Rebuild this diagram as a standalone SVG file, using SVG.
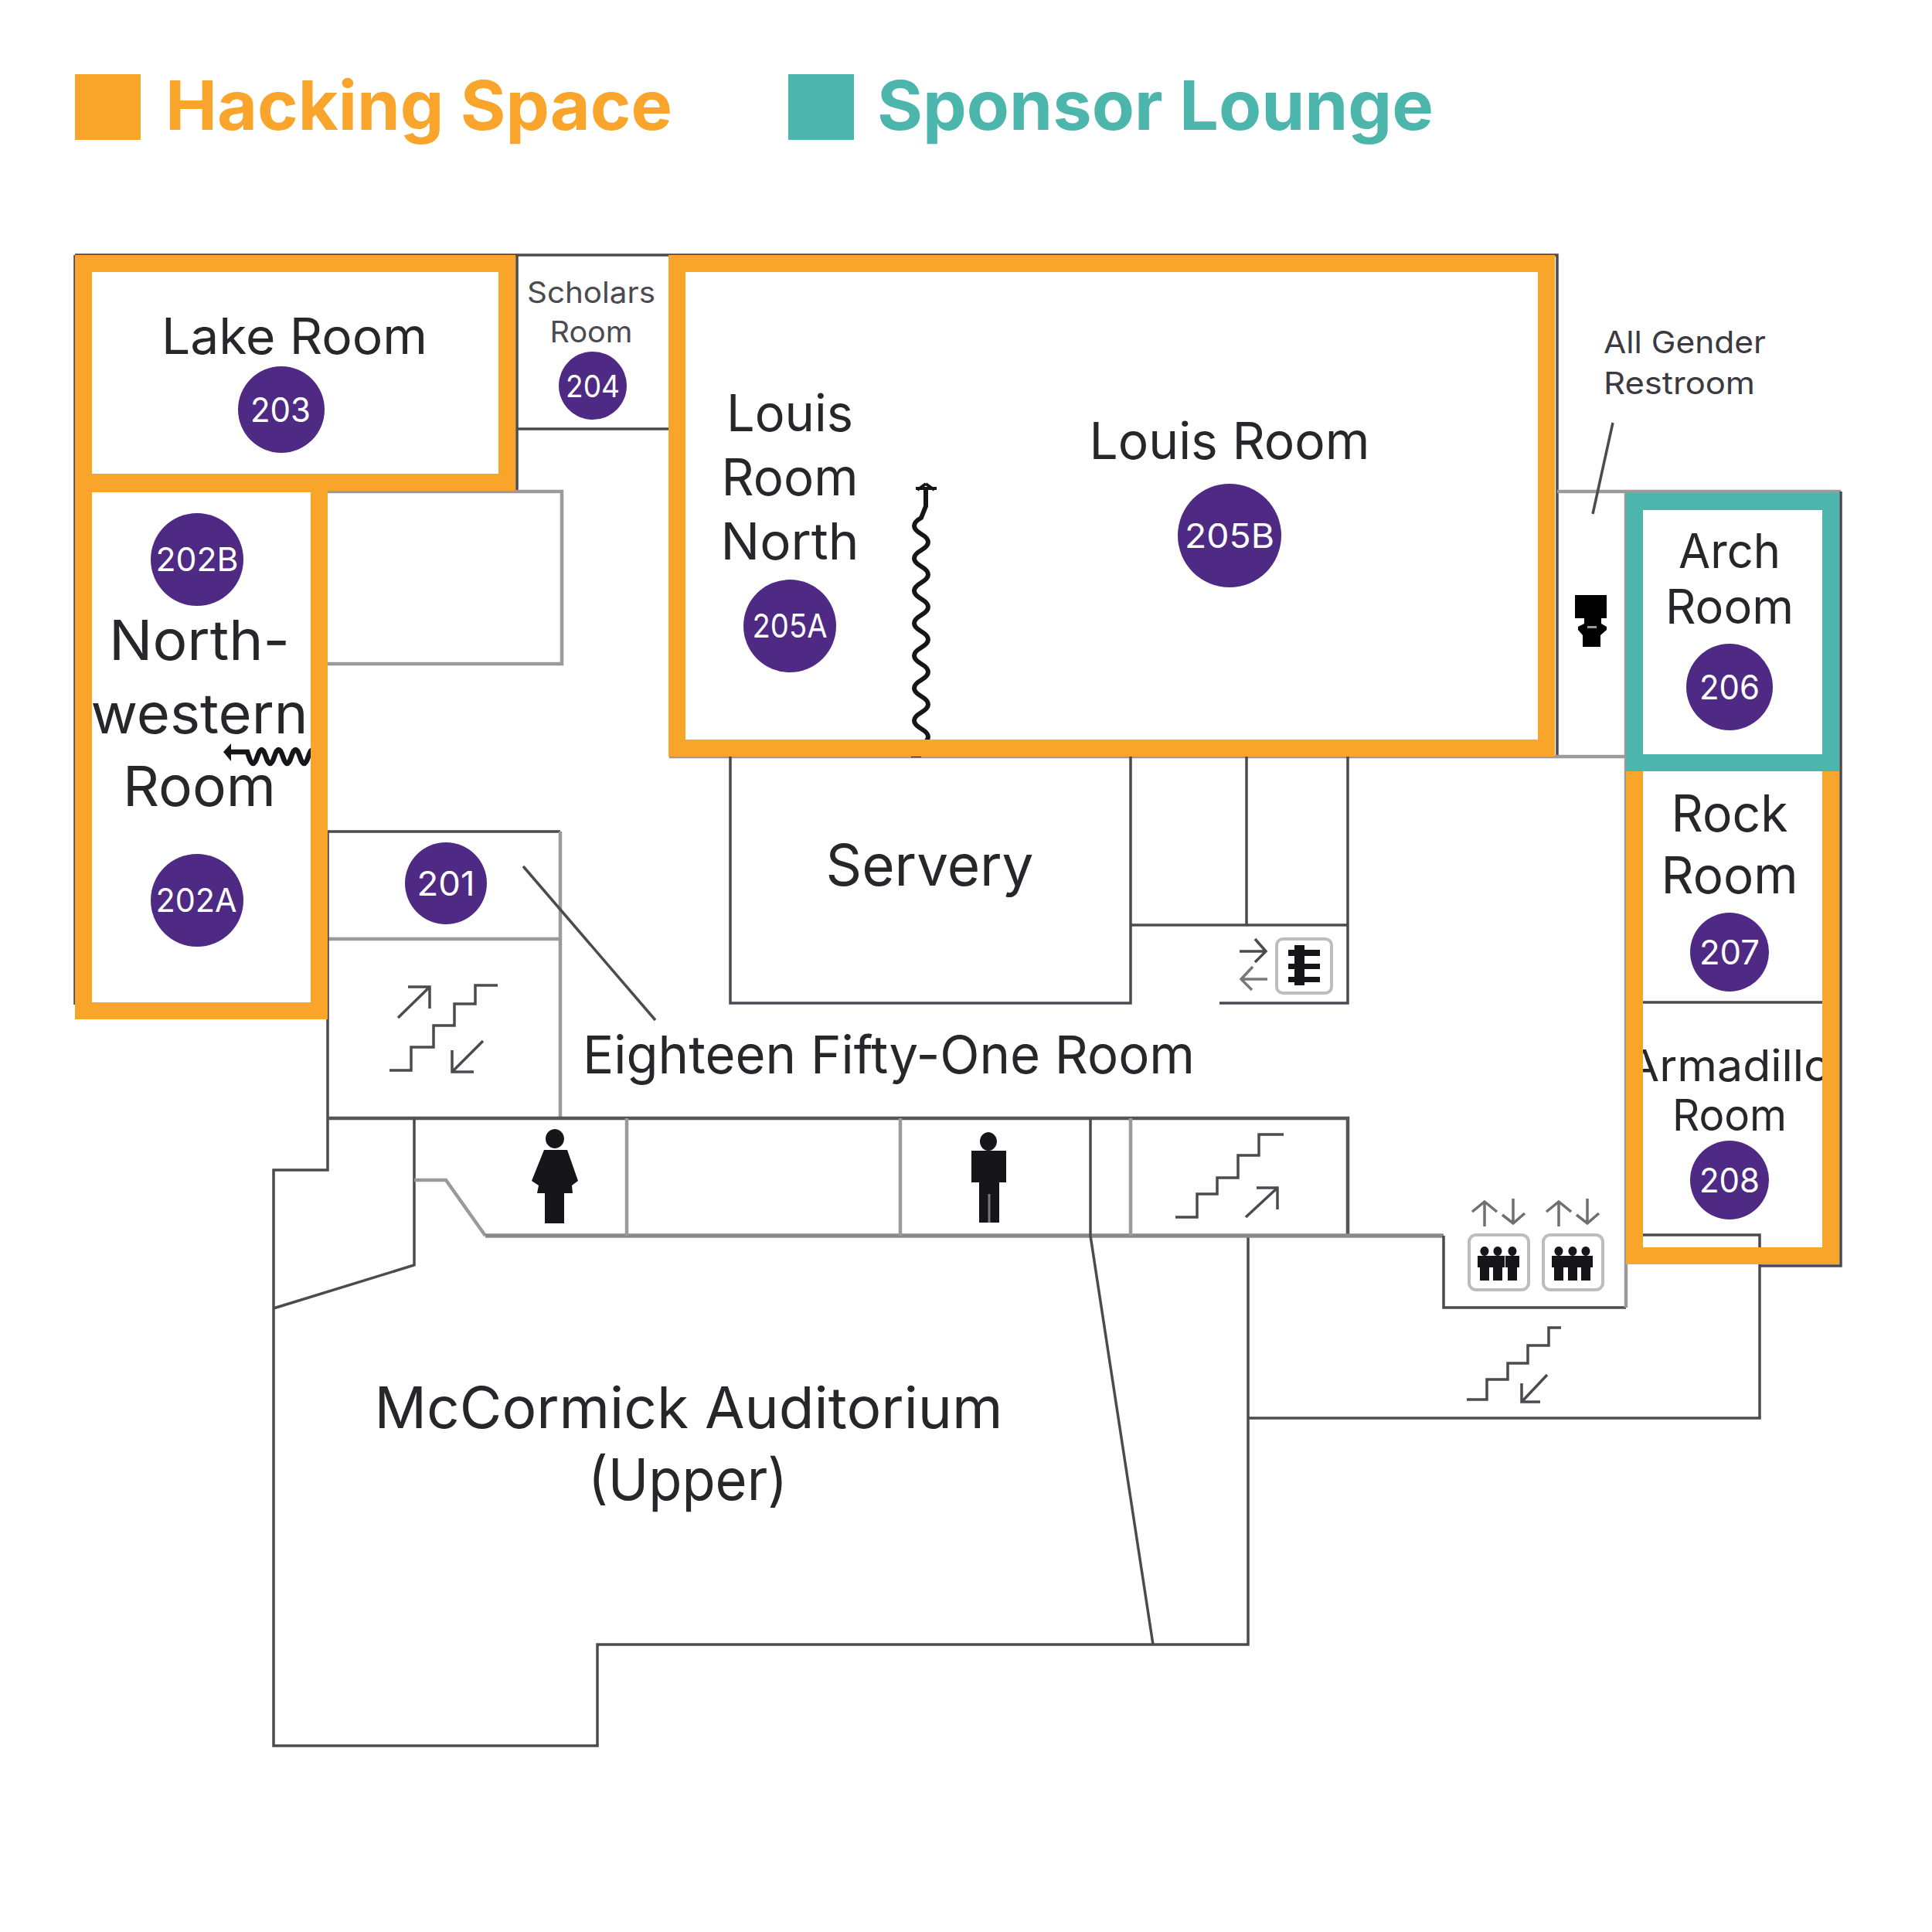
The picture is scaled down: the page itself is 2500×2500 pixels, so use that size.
<svg xmlns="http://www.w3.org/2000/svg" xmlns:xlink="http://www.w3.org/1999/xlink" width="2500" height="2500" viewBox="0 0 2500 2500">
<style>
text{font-family:"Inter","Liberation Sans",sans-serif;fill:#26262b;text-anchor:middle}
.w{fill:none;stroke:#4a4a50;stroke-width:3.5}
.g{fill:none;stroke:#9a9a9a;stroke-width:4.5}
.th{fill:none;stroke:#55555a;stroke-width:4.5}
.ic{fill:none;stroke:#4a4a50;stroke-width:3.5}
.b{fill:#4E2A84}
.n{fill:#fff;font-size:44px}
.o{fill:none;stroke:#F9A52B;stroke-width:22}
.t{fill:none;stroke:#4DB6AC;stroke-width:22}
.k{fill:#16161a}
.sq{fill:none;stroke:#16161a;stroke-width:6}
.lg{font-weight:700;font-size:88px;text-anchor:start}
.box{fill:#fff;stroke:#bdbdbd;stroke-width:4}
</style>
<defs>
<path id="person" class="k" d="M0 0a5.500 6 0 1 1-.1 0zM-9 12H9V27H6V44H-6V27H-9z"/>
</defs>
<rect width="2500" height="2500" fill="#fff"/>
<g id="legend">
<rect x="97" y="96" width="85" height="85" fill="#F9A52B"/>
<text class="lg" x="214" y="168" textLength="656" lengthAdjust="spacingAndGlyphs" style="fill:#F9A52B">Hacking Space</text>
<rect x="1020" y="96" width="85" height="85" fill="#4DB6AC"/>
<text class="lg" x="1135" y="168" textLength="720" lengthAdjust="spacingAndGlyphs" style="fill:#4DB6AC">Sponsor Lounge</text>
</g>
<g id="connectors">
<path class="w" d="M97 330H2015V980M97 330V1300M669 330V636"/>
<path class="w" d="M669 555H866"/>
<path class="g" d="M424 636H727V859H424"/>
<path class="w" d="M424 1076H725"/>
<path class="g" d="M725 1076V1447M424 1215H725"/>
<path class="w" d="M424 1076V1514H354V2259H773V2128H1615V1599"/>
<path class="th" d="M424 1447H1744V1599"/>
<path class="w" d="M354 1693L536 1637V1447"/>
<path class="g" d="M536 1527H577L628 1599"/>
<path class="th" d="M628 1599H1868" style="stroke:#8a8a8a;stroke-width:5.500"/>
<path class="g" d="M811 1447V1599M1165 1447V1599M1463 1447V1599"/>
<path class="w" d="M1411 1447V1599L1492 2128"/>
<path class="w" d="M1868 1599V1692H2104"/>
<path class="g" d="M2104 636V1692M866 979H2104M2015 636H2382"/>
<path class="w" d="M945 979V1298H1463V979M1613 979V1197M1463 1197H1744M1744 979V1298H1578"/>
<path class="w" d="M2125 1297H2358M2125 1598H2277V1835H1615M2382 636V1638H2277"/>
<path class="w" d="M677 1121L848 1320M2087 547L2061 665"/>
</g>
<g id="stairs-west">
<path class="ic" d="M504 1385H532V1355H561V1327H588V1299H615V1275H644M515 1317L556 1277M528 1277H556V1305M625 1347L585 1387M585 1359V1387H613"/>
</g>
<g id="stairs-east">
<path class="ic" d="M1521 1575H1549V1545H1575V1524H1602V1495H1629V1468H1661M1612 1575L1653 1537M1626 1537H1653V1565"/>
</g>
<g id="stairs-south">
<path class="ic" d="M1898 1811H1924V1785H1951V1764H1977V1741H2004V1718H2020M2002 1779L1969 1814M1969 1790V1814H1993"/>
</g>
<g id="freight-elevator">
<path class="ic" d="M1604 1231H1638M1624 1215L1638 1231L1624 1245"/>
<path class="ic" d="M1640 1267H1606M1621 1251L1606 1267L1620 1281" style="stroke:#77777c"/>
<rect class="box" x="1652" y="1215" width="71" height="70" rx="8"/>
<path class="k" d="M1675 1223H1688V1229H1708V1237H1688V1247H1708V1254H1688V1264H1708V1271H1688V1275H1675V1271H1667V1264H1675V1254H1667V1247H1675V1237H1667V1229H1675z"/>
</g>
<g id="woman-restroom">
<path class="k" d="M718 1461a12 12.500 0 1 1-.1 0zM704 1488H734L748 1528L740 1534L741 1544H730V1583H705V1544H695L697 1534L688 1528z"/>
</g>
<g id="men-restroom">
<path class="k" d="M1279 1465a11 12 0 1 1-.1 0zM1257 1489H1302V1530H1293V1582H1267V1530H1257z"/>
<rect x="1278.500" y="1545" width="3" height="37" fill="#777"/>
</g>
<g id="all-gender-restroom">
<text x="2075" y="457" font-size="40" textLength="210" lengthAdjust="spacingAndGlyphs" style="text-anchor:start;fill:#3a3a40">All Gender</text>
<text x="2075" y="510" font-size="40" textLength="196" lengthAdjust="spacingAndGlyphs" style="text-anchor:start;fill:#3a3a40">Restroom</text>
<path d="M2038 770H2079V800H2072V807L2079 811V815L2071 822V837H2048V822L2042 815V811L2050 807V800H2038z" fill="#000"/>
<rect x="2054" y="810" width="12" height="3" fill="#999"/>
</g>
<g id="elevators">
<path class="ic" d="M1921 1587V1555M1905 1568L1921 1555L1937 1568M1958 1551V1584M1944 1572L1958 1583L1973 1570M2017 1587V1555M2001 1568L2017 1555L2033 1568M2054 1551V1584M2040 1572L2054 1583L2069 1570" style="stroke:#6f6f72"/>
<rect class="box" x="1901" y="1598" width="77" height="71" rx="9"/>
<rect class="box" x="1997" y="1598" width="77" height="71" rx="9"/>
<use xlink:href="#person" href="#person" x="1921" y="1613"/>
<use xlink:href="#person" href="#person" x="1938" y="1613"/>
<use xlink:href="#person" href="#person" x="1957" y="1613"/>
<use xlink:href="#person" href="#person" x="2017" y="1613"/>
<use xlink:href="#person" href="#person" x="2035" y="1613"/>
<use xlink:href="#person" href="#person" x="2052" y="1613"/>
</g>
<g id="wall-dividers">
<path class="sq" d="M1198 632V655L1192 670q-18 10.500 0 21t0 21t0 21t0 21t0 21t0 21t0 21t0 21t0 21t0 21t0 21t0 21t0 21t0 21"/>
<path class="sq" d="M1185 632H1212M1198 626L1187 634M1198 626L1209 634" style="stroke-width:4"/>
<rect x="1179" y="976" width="13" height="4" fill="#16161a"/>
<path class="sq" d="M292 973H320L322 979q5.500 18 11 0t11 0t11 0t11 0t11 0t11 0t11 0t11 0" style="stroke-width:6.500"/>
<path class="k" d="M289 973L299 962V985z"/>
</g>
<g id="room-203">
<text x="381" y="458" font-size="64" textLength="344" lengthAdjust="spacingAndGlyphs">Lake Room</text>
<circle class="b" cx="364" cy="530" r="56"/><text class="n" x="363" y="546" textLength="78" lengthAdjust="spacingAndGlyphs">203</text>
</g>
<g id="room-204">
<text x="765" y="392" font-size="38" textLength="166" lengthAdjust="spacingAndGlyphs" style="fill:#4a4a50">Scholars</text>
<text x="765" y="443" font-size="38" textLength="107" lengthAdjust="spacingAndGlyphs" style="fill:#4a4a50">Room</text>
<circle class="b" cx="767" cy="499" r="44"/><text class="n" x="767" y="514" style="font-size:40px" textLength="70" lengthAdjust="spacingAndGlyphs">204</text>
</g>
<g id="room-202">
<circle class="b" cx="255" cy="724" r="60"/><text class="n" x="255" y="739" style="font-size:42px" textLength="107" lengthAdjust="spacingAndGlyphs">202B</text>
<text x="258" y="854" font-size="72" textLength="234" lengthAdjust="spacingAndGlyphs">North-</text>
<text x="258" y="949" font-size="72" textLength="281" lengthAdjust="spacingAndGlyphs">western</text>
<text x="258" y="1043" font-size="72" textLength="198" lengthAdjust="spacingAndGlyphs">Room</text>
<circle class="b" cx="255" cy="1165" r="60"/><text class="n" x="254" y="1180" style="font-size:42px" textLength="105" lengthAdjust="spacingAndGlyphs">202A</text>
</g>
<g id="room-201">
<circle class="b" cx="577" cy="1143" r="53"/><text class="n" x="577" y="1159" textLength="75" lengthAdjust="spacingAndGlyphs">201</text>
</g>
<g id="room-205a">
<text x="1022" y="558" font-size="66" textLength="164" lengthAdjust="spacingAndGlyphs">Louis</text>
<text x="1022" y="641" font-size="66" textLength="177" lengthAdjust="spacingAndGlyphs">Room</text>
<text x="1022" y="724" font-size="66" textLength="179" lengthAdjust="spacingAndGlyphs">North</text>
<circle class="b" cx="1022" cy="810" r="60"/><text class="n" x="1022" y="825" style="font-size:42px" textLength="97" lengthAdjust="spacingAndGlyphs">205A</text>
</g>
<g id="room-205b">
<text x="1591" y="594" font-size="66" textLength="363" lengthAdjust="spacingAndGlyphs">Louis Room</text>
<circle class="b" cx="1591" cy="693" r="67"/><text class="n" x="1591" y="709" textLength="116" lengthAdjust="spacingAndGlyphs">205B</text>
</g>
<g id="room-206">
<text x="2238" y="735" font-size="62" textLength="132" lengthAdjust="spacingAndGlyphs">Arch</text>
<text x="2238" y="807" font-size="62" textLength="166" lengthAdjust="spacingAndGlyphs">Room</text>
<circle class="b" cx="2238" cy="889" r="56"/><text class="n" x="2238" y="905" textLength="78" lengthAdjust="spacingAndGlyphs">206</text>
</g>
<g id="room-207">
<text x="2238" y="1076" font-size="66" textLength="151" lengthAdjust="spacingAndGlyphs">Rock</text>
<text x="2238" y="1156" font-size="66" textLength="177" lengthAdjust="spacingAndGlyphs">Room</text>
<circle class="b" cx="2238" cy="1232" r="51"/><text class="n" x="2238" y="1248" textLength="78" lengthAdjust="spacingAndGlyphs">207</text>
</g>
<g id="room-208">
<text x="2238" y="1399" font-size="56" textLength="263" lengthAdjust="spacingAndGlyphs">Armadillo</text>
<text x="2238" y="1463" font-size="56" textLength="148" lengthAdjust="spacingAndGlyphs">Room</text>
<circle class="b" cx="2238" cy="1527" r="51"/><text class="n" x="2238" y="1543" textLength="78" lengthAdjust="spacingAndGlyphs">208</text>
</g>
<g id="servery">
<text x="1203" y="1146" font-size="74" textLength="269" lengthAdjust="spacingAndGlyphs">Servery</text>
</g>
<g id="room-1851">
<text x="1150" y="1389" font-size="68" textLength="792" lengthAdjust="spacingAndGlyphs">Eighteen Fifty-One Room</text>
</g>
<g id="auditorium">
<text x="891" y="1848" font-size="74" textLength="813" lengthAdjust="spacingAndGlyphs">McCormick Auditorium</text>
<text x="890" y="1941" font-size="74" textLength="258" lengthAdjust="spacingAndGlyphs">(Upper)</text>
</g>
<g id="highlights">
<rect class="o" x="108" y="341" width="548" height="283"/>
<rect class="o" x="108" y="626" width="305" height="682"/>
<rect class="o" x="876" y="341" width="1125" height="627"/>
<rect class="o" x="2115" y="987" width="254" height="638"/>
<rect class="t" x="2115" y="649" width="254" height="338"/>
</g>
</svg>
